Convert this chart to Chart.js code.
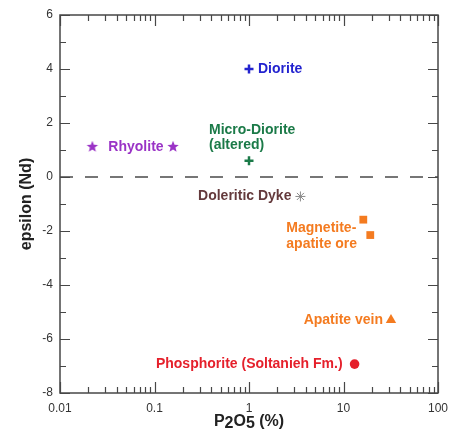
<!DOCTYPE html>
<html>
<head>
<meta charset="utf-8">
<script src="https://cdn.jsdelivr.net/npm/chart.js@4/dist/chart.umd.min.js"></script>
<style>
  html, body { margin: 0; padding: 0; background: #fff; }
  canvas { display: block; }
</style>
</head>
<body>
<canvas id="chart" width="459" height="432"></canvas>
<script>
// P2O5 (%) versus epsilon(Nd) for each rock group
const dioriteP2O5 = [1.0];
const dioriteEps = [4.0];
const microDioriteP2O5 = [1.0];
const microDioriteEps = [0.6];
const rhyoliteP2O5 = [0.022, 0.157];
const rhyoliteEps = [1.15, 1.15];
const doleriticP2O5 = [3.5];
const doleriticEps = [-0.72];
const magnetiteP2O5 = [16.2, 19.2];
const magnetiteEps = [-1.58, -2.15];
const apatiteVeinP2O5 = [31.8];
const apatiteVeinEps = [-5.3];
const phosphoriteP2O5 = [13.1];
const phosphoriteEps = [-6.93];

const xTickValues = [0.01, 0.1, 1, 10, 100];
const xTickLabels = ['0.01', '0.1', '1', '10', '100'];
const yTickValues = [-8, -6, -4, -2, 0, 2, 4, 6];
const yMinorValues = [-7, -5, -3, -1, 1, 3, 5];

const FONT = '"Liberation Sans", Arial, sans-serif';

function pts(xs, ys) { return xs.map((x, i) => ({ x: x, y: ys[i] })); }

// filled five-pointed star used as a point style
function makeStar(color, outer, inner) {
  const s = 14;
  const c = document.createElement('canvas');
  c.width = s; c.height = s;
  const g = c.getContext('2d');
  g.fillStyle = color;
  g.beginPath();
  for (let i = 0; i < 10; i++) {
    const r = i % 2 === 0 ? outer : inner;
    const a = -Math.PI / 2 + i * Math.PI / 5;
    const px = s / 2 + r * Math.cos(a);
    const py = s / 2 + 0.8 + r * Math.sin(a);
    if (i === 0) g.moveTo(px, py); else g.lineTo(px, py);
  }
  g.closePath();
  g.fill();
  return c;
}

const BLUE = '#2323cf';
const GREEN = '#1b7a48';
const PURPLE = '#9a33c6';
const BROWN = '#643a3c';
const GREY = '#8a8a8a';
const ORANGE = '#f47b20';
const RED = '#e5202b';

// text annotations: attached to a dataset point, offset in pixels
const annotations = [
  { ds: 0, pt: 0, lines: ['Diorite'], dx: 9, dy: 0, align: 'left', color: BLUE },
  { ds: 1, pt: 0, lines: ['Micro-Diorite', '(altered)'], dx: -40, dy: -31, lh: 15, align: 'left', color: GREEN },
  { ds: 2, pt: 0, lines: ['Rhyolite'], dx: 16, dy: 1.5, align: 'left', color: PURPLE },
  { ds: 3, pt: 0, lines: ['Doleritic Dyke'], dx: -9, dy: 0, align: 'right', color: BROWN },
  { ds: 4, pt: 0, lines: ['Magnetite-', 'apatite ore'], dx: -77, dy: 8, lh: 16.5, align: 'left', color: ORANGE },
  { ds: 5, pt: 0, lines: ['Apatite vein'], dx: -8, dy: 0, align: 'right', color: ORANGE },
  { ds: 6, pt: 0, lines: ['Phosphorite (Soltanieh Fm.)'], dx: -12, dy: 0, align: 'right', color: RED }
];

const annotationPlugin = {
  id: 'annotationText',
  afterDatasetsDraw(chart) {
    const ctx = chart.ctx;
    ctx.save();
    ctx.font = 'bold 14px ' + FONT;
    ctx.textBaseline = 'middle';
    annotations.forEach(a => {
      const el = chart.getDatasetMeta(a.ds).data[a.pt];
      ctx.fillStyle = a.color;
      ctx.textAlign = a.align;
      a.lines.forEach((t, i) => {
        ctx.fillText(t, el.x + a.dx, el.y + a.dy + i * (a.lh || 0));
      });
    });
    ctx.restore();
  }
};

// frame with inward major/minor ticks on all four sides, plus axis titles
const framePlugin = {
  id: 'frame',
  afterDraw(chart) {
    const ctx = chart.ctx;
    const a = chart.chartArea;
    const xs = chart.scales.x, ys = chart.scales.y;
    ctx.save();
    ctx.strokeStyle = '#474747';
    ctx.lineWidth = 1.5;
    ctx.strokeRect(a.left, a.top, a.right - a.left, a.bottom - a.top);
    ctx.lineWidth = 1.2;
    ctx.beginPath();
    const majorLen = 10, minorLen = 6;
    yTickValues.concat(yMinorValues).forEach(v => {
      const len = yTickValues.includes(v) ? majorLen : minorLen;
      const y = Math.round(ys.getPixelForValue(v)) + 0.5;
      ctx.moveTo(a.left, y); ctx.lineTo(a.left + len, y);
      ctx.moveTo(a.right, y); ctx.lineTo(a.right - len, y);
    });
    for (let d = -2; d < 2; d++) {
      for (let m = 1; m <= 10; m++) {
        const v = m * Math.pow(10, d);
        const len = (m === 1 || m === 10) ? majorLen + 1 : minorLen;
        const x = Math.round(xs.getPixelForValue(v)) + 0.5;
        ctx.moveTo(x, a.bottom); ctx.lineTo(x, a.bottom - len);
        ctx.moveTo(x, a.top); ctx.lineTo(x, a.top + len);
      }
    }
    ctx.stroke();

    // y-axis title
    ctx.fillStyle = '#222';
    ctx.font = 'bold 16px ' + FONT;
    ctx.textAlign = 'center';
    ctx.textBaseline = 'middle';
    ctx.save();
    ctx.translate(27, (a.top + a.bottom) / 2);
    ctx.rotate(-Math.PI / 2);
    ctx.fillText('epsilon (Nd)', 0, 0);
    ctx.restore();

    // x-axis title with lowered digits
    const parts = [['P', 0], ['2', 2], ['O', 0], ['5', 2], [' (%)', 0]];
    ctx.textAlign = 'left';
    ctx.textBaseline = 'alphabetic';
    const total = parts.reduce((s, p) => s + ctx.measureText(p[0]).width, 0);
    let x = (a.left + a.right) / 2 - total / 2;
    const base = 426;
    parts.forEach(p => {
      ctx.fillText(p[0], x, base + p[1]);
      x += ctx.measureText(p[0]).width;
    });
    ctx.restore();
  }
};

const ctx = document.getElementById('chart').getContext('2d');
new Chart(ctx, {
  type: 'scatter',
  data: {
    datasets: [
      { label: 'Diorite', data: pts(dioriteP2O5, dioriteEps), pointStyle: 'cross',
        pointRadius: 4.5, borderColor: BLUE, backgroundColor: BLUE, borderWidth: 2.5 },
      { label: 'Micro-Diorite (altered)', data: pts(microDioriteP2O5, microDioriteEps), pointStyle: 'cross',
        pointRadius: 4.5, borderColor: GREEN, backgroundColor: GREEN, borderWidth: 2.5 },
      { label: 'Rhyolite', data: pts(rhyoliteP2O5, rhyoliteEps), pointStyle: makeStar(PURPLE, 6, 2.6),
        pointRadius: 6, borderWidth: 0, borderColor: 'rgba(0,0,0,0)', backgroundColor: PURPLE },
      { label: 'Doleritic Dyke', data: pts(doleriticP2O5, doleriticEps), pointStyle: 'star',
        pointRadius: 5, borderColor: GREY, backgroundColor: GREY, borderWidth: 1 },
      { label: 'Magnetite-apatite ore', data: pts(magnetiteP2O5, magnetiteEps), pointStyle: 'rect',
        pointRadius: 5.5, borderColor: ORANGE, backgroundColor: ORANGE, borderWidth: 0 },
      { label: 'Apatite vein', data: pts(apatiteVeinP2O5, apatiteVeinEps), pointStyle: 'triangle',
        pointRadius: 6, borderColor: ORANGE, backgroundColor: ORANGE, borderWidth: 0 },
      { label: 'Phosphorite (Soltanieh Fm.)', data: pts(phosphoriteP2O5, phosphoriteEps), pointStyle: 'circle',
        pointRadius: 4.8, borderColor: RED, backgroundColor: RED, borderWidth: 0 },
      { label: 'zero', type: 'line', data: [{ x: 0.01, y: 0 }, { x: 100, y: 0 }],
        borderColor: '#4a4a4a', borderWidth: 1.6, borderDash: [13, 12], pointRadius: 0, fill: false }
    ]
  },
  options: {
    responsive: false,
    animation: false,
    devicePixelRatio: 1,
    layout: { padding: { top: 15, right: 21, left: 0, bottom: 0 } },
    plugins: { legend: { display: false }, tooltip: { enabled: false } },
    scales: {
      x: {
        type: 'logarithmic',
        min: 0.01, max: 100,
        grid: { display: false, drawTicks: false },
        border: { display: false },
        afterBuildTicks: s => { s.ticks = xTickValues.map(v => ({ value: v })); },
        afterFit: s => { s.height = 39; },
        ticks: {
          autoSkip: false, maxRotation: 0, padding: 8,
          color: '#333', font: { family: FONT, size: 12 },
          callback: v => { const i = xTickValues.indexOf(v); return i >= 0 ? xTickLabels[i] : ''; }
        }
      },
      y: {
        min: -8, max: 6,
        grid: { display: false, drawTicks: false },
        border: { display: false },
        afterBuildTicks: s => { s.ticks = yTickValues.map(v => ({ value: v })); },
        afterFit: s => { s.width = 60; },
        ticks: { padding: 7, color: '#333', font: { family: FONT, size: 12 } }
      }
    }
  },
  plugins: [annotationPlugin, framePlugin]
});
</script>
</body>
</html>
